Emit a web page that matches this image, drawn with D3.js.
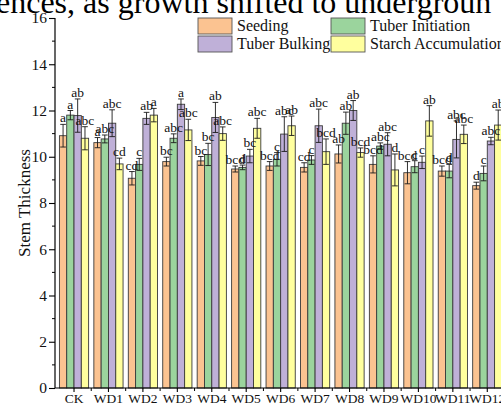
<!DOCTYPE html>
<html>
<head>
<meta charset="utf-8">
<script src="https://cdn.jsdelivr.net/npm/d3@7"></script>
<style>
  html, body { margin: 0; padding: 0; background: #fff; }
  svg { display: block; font-family: "Liberation Serif", "Times New Roman", serif; }
</style>
</head>
<body>
<svg id="chart" width="501" height="413"></svg>
<script>
// categories and series
const categories = ['CK', 'WD1', 'WD2', 'WD3', 'WD4', 'WD5', 'WD6', 'WD7', 'WD8', 'WD9', 'WD10', 'WD11', 'WD12'];
const series = ['Seeding', 'Tuber Initiation', 'Tuber Bulking', 'Starch Accumulation'];
const colors = ['#fbc391', '#9bd49d', '#bfb0d8', '#ffff9e'];
const yTicks = [0, 2, 4, 6, 8, 10, 12, 14, 16];

// mean values per stage
const seeding    = [10.91, 10.61, 9.07, 9.79, 9.82, 9.47, 9.60, 9.54, 10.12, 9.67, 9.31, 9.38, 8.75];
const initiation = [11.80, 10.77, 9.67, 10.80, 10.10, 9.54, 9.89, 9.86, 11.45, 10.46, 9.57, 9.38, 9.28];
const bulking    = [11.78, 11.45, 11.66, 12.27, 11.70, 10.03, 10.98, 11.34, 12.00, 10.54, 9.76, 10.75, 10.68];
const starch     = [10.80, 9.69, 11.80, 11.16, 11.00, 11.23, 11.34, 10.22, 10.18, 9.43, 11.55, 10.97, 11.37];

// error (sd)
const seedingErr    = [0.49, 0.22, 0.29, 0.19, 0.19, 0.13, 0.19, 0.20, 0.39, 0.37, 0.48, 0.22, 0.15];
const initiationErr = [0.20, 0.17, 0.26, 0.19, 0.48, 0.10, 0.29, 0.19, 0.48, 0.14, 0.26, 0.29, 0.32];
const bulkingErr    = [0.72, 0.58, 0.26, 0.23, 0.65, 0.29, 0.75, 0.72, 0.43, 0.50, 0.27, 0.80, 0.16];
const starchErr     = [0.50, 0.25, 0.29, 0.46, 0.29, 0.43, 0.42, 0.55, 0.20, 0.69, 0.66, 0.40, 0.65];

// significance letters
const seedingSig    = ['a', 'a', 'cd', 'bc', 'bc', 'bcd', 'bcd', 'cd', 'ab', 'bcd', 'bcd', 'bcd', 'd'];
const initiationSig = ['a', 'abc', 'c', 'abc', 'bc', 'd', 'c', 'c', 'ab', 'abc', 'c', 'd', 'c'];
const bulkingSig    = ['ab', 'abc', 'ab', 'a', 'ab', 'bc', 'abc', 'abc', 'ab', 'abc', 'c', 'abc', 'abc'];
const starchSig     = ['abc', 'cd', 'a', 'abc', 'abc', 'abc', 'ab', 'bcd', 'bcd', 'd', 'ab', 'abc', 'ab'];

const values = [seeding, initiation, bulking, starch];
const errors = [seedingErr, initiationErr, bulkingErr, starchErr];
const sigs = [seedingSig, initiationSig, bulkingSig, starchSig];

const svg = d3.select('#chart');
const axisX = 55, plotTop = 18, plotBottom = 388;

const x = d3.scaleBand().domain(categories).range([56.8, 504.5]);
const xs = d3.scaleBand().domain(series).range([0, 29.2]);
const y = d3.scaleLinear().domain([0, 16]).range([plotBottom, plotTop]);

// cropped caption text at the very top
svg.append('text')
  .attr('x', -4).attr('y', 13)
  .attr('font-size', 32)
  .attr('fill', '#000')
  .text('ences, as growth shifted to undergroun');

// bars
const rows = [];
categories.forEach((c, i) => {
  series.forEach((s, j) => {
    rows.push({ c, s, j, v: values[j][i], e: errors[j][i], sig: sigs[j][i] });
  });
});

const bx = d => x(d.c) + x.bandwidth() / 2 - 14.6 + xs(d.s);

const g = svg.append('g');
g.selectAll('rect.bar')
  .data(rows)
  .join('rect')
  .attr('class', 'bar')
  .attr('x', bx)
  .attr('y', d => y(d.v))
  .attr('width', xs.bandwidth())
  .attr('height', d => y(0) - y(d.v))
  .attr('fill', d => colors[d.j])
  .attr('stroke', '#3a3a3a')
  .attr('stroke-width', 0.9);

// error bars
const eg = g.selectAll('g.err').data(rows).join('g').attr('class', 'err')
  .attr('stroke', '#1a1a1a').attr('stroke-width', 0.9);
eg.append('line')
  .attr('x1', d => bx(d) + xs.bandwidth() / 2).attr('x2', d => bx(d) + xs.bandwidth() / 2)
  .attr('y1', d => y(d.v - d.e)).attr('y2', d => y(d.v + d.e));
eg.append('line')
  .attr('x1', d => bx(d) + 0.8).attr('x2', d => bx(d) + xs.bandwidth() - 0.8)
  .attr('y1', d => y(d.v + d.e)).attr('y2', d => y(d.v + d.e));
eg.append('line')
  .attr('x1', d => bx(d) + 0.8).attr('x2', d => bx(d) + xs.bandwidth() - 0.8)
  .attr('y1', d => y(d.v - d.e)).attr('y2', d => y(d.v - d.e));

// letters
g.selectAll('text.sig')
  .data(rows)
  .join('text')
  .attr('class', 'sig')
  .attr('x', d => bx(d) + xs.bandwidth() / 2)
  .attr('y', d => y(d.v + d.e) - 2)
  .attr('text-anchor', 'middle')
  .attr('font-size', 13.5)
  .attr('fill', '#111')
  .text(d => d.sig);

// y axis
const yAxis = svg.append('g')
  .attr('transform', `translate(${axisX},0)`)
  .call(d3.axisLeft(y).tickValues(yTicks).tickSize(6).tickPadding(2).tickFormat(d3.format('d')));
yAxis.select('.domain').attr('d', `M0,${plotTop}V${plotBottom}`).attr('stroke', '#000').attr('stroke-width', 1.2);
yAxis.selectAll('.tick line').attr('stroke', '#000').attr('stroke-width', 1.1);
yAxis.selectAll('.tick text').attr('font-size', 15.5).attr('font-family', '"Liberation Serif", serif').attr('fill', '#111');
yAxis.selectAll('line.minor')
  .data(d3.range(1, 16, 2))
  .join('line')
  .attr('class', 'minor')
  .attr('x1', -3).attr('x2', 0)
  .attr('y1', d => y(d)).attr('y2', d => y(d))
  .attr('stroke', '#000').attr('stroke-width', 1);

// x axis
const xAxis = svg.append('g')
  .attr('transform', `translate(0,${plotBottom})`)
  .call(d3.axisBottom(x).tickSize(4).tickPadding(1.5));
xAxis.select('.domain').attr('d', `M${axisX},0H501`).attr('stroke', '#000').attr('stroke-width', 1.2);
xAxis.selectAll('.tick line').attr('stroke', '#000').attr('stroke-width', 1.1);
xAxis.selectAll('.tick text').attr('font-size', 13.5).attr('font-family', '"Liberation Serif", serif').attr('fill', '#111');
xAxis.selectAll('line.minor')
  .data(categories.slice(1))
  .join('line')
  .attr('class', 'minor')
  .attr('x1', d => x(d)).attr('x2', d => x(d))
  .attr('y1', 0).attr('y2', 3)
  .attr('stroke', '#000').attr('stroke-width', 1);

// y label
svg.append('text')
  .attr('transform', `translate(30,${(plotTop + plotBottom) / 2}) rotate(-90)`)
  .attr('text-anchor', 'middle')
  .attr('font-size', 17)
  .attr('fill', '#111')
  .text('Stem Thickness');

// legend
const legendItems = [
  { s: series[0], c: colors[0], x: 198, y: 18 },
  { s: series[1], c: colors[1], x: 331, y: 18 },
  { s: series[2], c: colors[2], x: 198, y: 36 },
  { s: series[3], c: colors[3], x: 331, y: 36 }
];
const lg = svg.append('g').selectAll('g').data(legendItems).join('g')
  .attr('transform', d => `translate(${d.x},${d.y})`);
lg.append('rect')
  .attr('width', 34).attr('height', 16)
  .attr('fill', d => d.c)
  .attr('stroke', '#555').attr('stroke-width', 0.9);
lg.append('text')
  .attr('x', 39).attr('y', 13)
  .attr('font-size', 16)
  .attr('fill', '#111')
  .text(d => d.s);
</script>
</body>
</html>
